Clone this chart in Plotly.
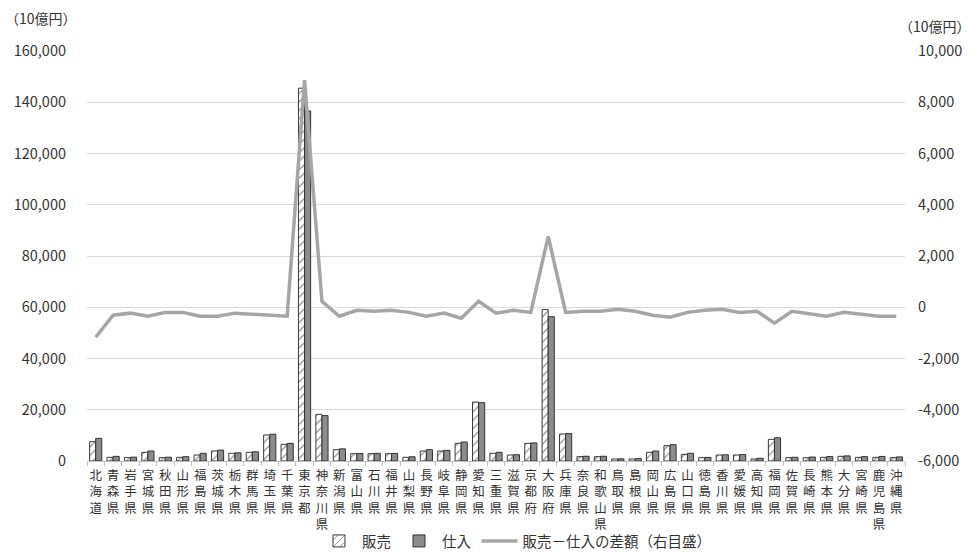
import plotly.graph_objects as go

# 都道府県別 販売額・仕入額（10億円）と差額（右目盛）
prefectures = [
    "北海道", "青森県", "岩手県", "宮城県", "秋田県", "山形県", "福島県", "茨城県",
    "栃木県", "群馬県", "埼玉県", "千葉県", "東京都", "神奈川県", "新潟県", "富山県",
    "石川県", "福井県", "山梨県", "長野県", "岐阜県", "静岡県", "愛知県", "三重県",
    "滋賀県", "京都府", "大阪府", "兵庫県", "奈良県", "和歌山県", "鳥取県", "島根県",
    "岡山県", "広島県", "山口県", "徳島県", "香川県", "愛媛県", "高知県", "福岡県",
    "佐賀県", "長崎県", "熊本県", "大分県", "宮崎県", "鹿児島県", "沖縄県",
]

sales = [
    7540, 1430, 1300, 3380, 1300, 1430, 2340, 3900,
    3000, 3380, 10140, 6500, 145500, 18200, 4420, 2860,
    2860, 2860, 1430, 3900, 3900, 6890, 23000, 3000,
    2340, 6890, 59100, 10530, 1690, 1690, 780, 780,
    3380, 5980, 2600, 1300, 2340, 2340, 780, 8450,
    1300, 1300, 1430, 1820, 1430, 1430, 1300,
]

purchases = [
    8840, 1800, 1500, 3900, 1500, 1690, 2990, 4250,
    3200, 3600, 10450, 6880, 136600, 17700, 4750, 2950,
    3000, 2950, 1650, 4420, 4150, 7410, 22750, 3380,
    2450, 7050, 56300, 10700, 1850, 1850, 850, 930,
    3900, 6350, 3000, 1400, 2420, 2520, 1050, 9050,
    1450, 1550, 1740, 2000, 1700, 1780, 1600,
]

difference = [
    -1170, -310, -230, -350, -200, -200, -350, -350,
    -230, -270, -310, -350, 8860, 230, -350, -120,
    -160, -120, -200, -350, -230, -430, 230, -230,
    -120, -200, 2770, -200, -160, -160, -80, -160,
    -310, -390, -200, -120, -80, -200, -160, -620,
    -160, -270, -350, -200, -270, -350, -350,
]

left_ticks = [0, 20000, 40000, 60000, 80000, 100000, 120000, 140000, 160000]
left_labels = ["0", "20,000", "40,000", "60,000", "80,000", "100,000",
               "120,000", "140,000", "160,000"]
right_ticks = [-6000, -4000, -2000, 0, 2000, 4000, 6000, 8000, 10000]
right_labels = ["-6,000", "-4,000", "-2,000", "0", "2,000", "4,000",
                "6,000", "8,000", "10,000"]

FONT = "Noto Sans CJK JP"
TEXT = "#333333"

# 縦書き風のカテゴリラベル
vertical_names = ["<br>".join(list(p)) for p in prefectures]

fig = go.Figure()

fig.add_trace(go.Bar(
    x=vertical_names, y=sales, name="販売",
    marker=dict(
        color="white",
        line=dict(color="#3a3a3a", width=1),
        pattern=dict(shape="/", fgcolor="#222222", bgcolor="white",
                     size=6, solidity=0.2),
    ),
))

fig.add_trace(go.Bar(
    x=vertical_names, y=purchases, name="仕入",
    marker=dict(color="#8c8c8c", line=dict(color="#333333", width=1)),
))

fig.add_trace(go.Scatter(
    x=vertical_names, y=difference, name="販売－仕入の差額（右目盛）",
    mode="lines", yaxis="y2",
    line=dict(color="#a6a6a6", width=3.5),
))

fig.update_layout(
    width=973, height=552,
    margin=dict(l=87, r=68, t=51, b=91, autoexpand=False),
    paper_bgcolor="white", plot_bgcolor="white",
    font=dict(family=FONT, size=13, color=TEXT),
    barmode="group", bargap=0.3, bargroupgap=0.0,
    showlegend=True,
    legend=dict(
        orientation="h", xref="container", yref="container",
        x=316 / 973, xanchor="left", y=11 / 552, yanchor="middle",
        font=dict(size=14.5, color=TEXT), itemwidth=36, tracegroupgap=0,
        traceorder="normal", bgcolor="rgba(0,0,0,0)",
    ),
    xaxis=dict(
        automargin=False, showgrid=False,
        showline=True, linecolor="#bfbfbf", linewidth=1,
        ticks="outside", tickson="boundaries", ticklen=4, tickcolor="#bfbfbf",
        tickfont=dict(size=12.5, color=TEXT), tickangle=0, ticklabelstandoff=3,
    ),
    yaxis=dict(
        range=[0, 160000], tickvals=left_ticks, ticktext=left_labels,
        automargin=False, showgrid=True, gridcolor="#d9d9d9", gridwidth=1,
        zeroline=False, showline=False, ticks="", ticklabelstandoff=20,
        tickfont=dict(size=14.5, color=TEXT),
    ),
    yaxis2=dict(
        range=[-6000, 10000], tickvals=right_ticks, ticktext=right_labels,
        overlaying="y", side="right", automargin=False,
        showgrid=False, zeroline=False, showline=False, ticks="",
        ticklabelstandoff=12, tickfont=dict(size=14.5, color=TEXT),
    ),
    annotations=[
        dict(text="（10億円）", xref="paper", yref="paper",
             x=-84 / 818, y=1 + 33 / 410, xanchor="left", yanchor="middle",
             showarrow=False, font=dict(size=14, color=TEXT)),
        dict(text="（10億円）", xref="paper", yref="paper",
             x=1 + 68 / 818, y=1 + 25 / 410, xanchor="right", yanchor="middle",
             showarrow=False, font=dict(size=14, color=TEXT)),
    ],
)

fig.write_html("out.html")
